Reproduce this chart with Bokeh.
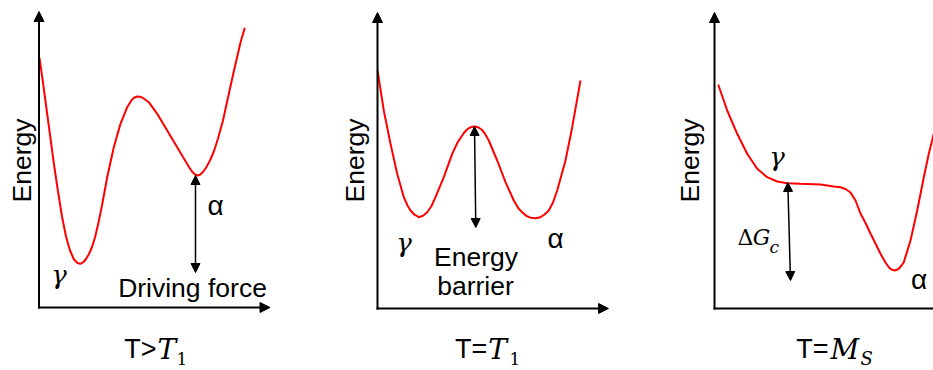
import math
from bokeh.plotting import figure
from bokeh.models import Range1d, Arrow, NormalHead
from bokeh.layouts import row
from bokeh.core.properties import value
from bokeh.embed import file_html
from bokeh.resources import INLINE

# ---------------- data (energy vs. reaction coordinate, arbitrary units) ----------------
x_hot = [0.5, 4.8, 8, 11.5, 15, 19, 23, 27, 31, 35, 38.5, 41.5, 44.5, 47, 50, 53, 56, 59.5,
         63, 68.2, 74.8, 81.5, 88.2, 92, 95, 98.2, 101, 104, 109.8, 118.2, 128.2, 138.2,
         144, 150, 153, 156, 158.5, 161, 164, 167, 171, 175, 179, 184, 189, 195, 201.5, 205.8]
e_hot = [249.7, 219, 195, 169, 143, 116, 91, 71, 57, 48, 44.5, 43.7, 45.5, 48.5, 53.5, 60.5,
         70, 85, 102, 130.3, 160.3, 183.7, 200.3, 206.5, 209.8, 211, 210.8, 209.5, 205.3,
         193.7, 177, 160.3, 150.5, 140.5, 136, 133, 132, 132.8, 135.5, 139.8, 147, 156.5,
         169, 187, 210, 237, 265, 279.7]

x_t1 = [0, 6.3, 13, 19.7, 26.3, 30, 33, 37, 41.3, 45.5, 49.7, 54, 58, 66.3, 74.7, 80, 86,
        89, 92, 95, 98, 101, 104, 107, 111.3, 119.7, 128, 136.3, 141, 144.7, 149, 153, 158,
        163, 167, 171.3, 175.5, 179.7, 188, 194.7, 203]
e_t1 = [238, 198, 164.7, 134.7, 111.3, 103, 98, 93.8, 91.3, 92.8, 96.3, 102.5, 111.3, 131.3,
        154.7, 166, 175, 178.5, 180.8, 181.8, 182, 181, 179, 175.5, 168, 148, 126.3, 108,
        100, 96.3, 92.5, 90.8, 90.3, 91.3, 94, 98, 106, 118, 148, 181.3, 228]

x_ms = [3.7, 12.7, 22.7, 32.7, 42.7, 52.7, 62.7, 72.7, 86, 106, 119.3, 126, 131, 136, 141,
        146, 151, 156, 166, 171, 174.3, 177, 180.3, 184, 187, 189.3, 196, 202.7, 209.3,
        214.3, 219.3]
e_ms = [224, 198, 174.7, 154.7, 139.7, 131.3, 127, 125.3, 124.7, 124, 122, 121.3, 119.5,
        116, 108, 95, 85.5, 75, 54.7, 46, 41.3, 39, 38, 39.5, 43, 46.3, 68, 98, 131.3,
        154.7, 174.7]

# double-arrow spans (x_top, e_top, x_bottom, e_bottom)
arrow_hot = (156.5, 132, 156.5, 35)   # driving force
arrow_t1 = (97, 182, 98.3, 81)        # energy barrier
arrow_ms = (73.3, 126, 76, 28)        # critical driving force

AXIS_Y_TOP = 296
AXIS_X_END = 231

SANS = value("Liberation Sans")
MATH = value("DejaVu Serif")
BLACK = "black"
H = 370


def make_panel(width, xr, yr):
    p = figure(width=width, height=H, x_range=Range1d(*xr), y_range=Range1d(*yr),
               output_backend="svg", toolbar_location=None,
               x_axis_location=None, y_axis_location=None, min_border=0)
    p.outline_line_color = None
    p.grid.visible = False
    p.background_fill_color = "white"
    p.border_fill_color = "white"
    return p


def axes(p, x_arrow=True):
    p.add_layout(Arrow(end=NormalHead(size=10, fill_color=BLACK, line_color=BLACK),
                       x_start=0, y_start=-1, x_end=0, y_end=AXIS_Y_TOP,
                       line_width=2, line_color=BLACK))
    if x_arrow:
        p.add_layout(Arrow(end=NormalHead(size=10, fill_color=BLACK, line_color=BLACK),
                           x_start=-1, y_start=0, x_end=AXIS_X_END, y_end=0,
                           line_width=2, line_color=BLACK))
    else:
        p.segment(x0=[-1], y0=[0], x1=[AXIS_X_END + 20], y1=[0], line_width=2, line_color=BLACK)


def dbl_arrow(p, a):
    p.add_layout(Arrow(start=NormalHead(size=9, fill_color=BLACK, line_color=BLACK),
                       end=NormalHead(size=9, fill_color=BLACK, line_color=BLACK),
                       x_start=a[2], y_start=a[3], x_end=a[0], y_end=a[1],
                       line_width=1.5, line_color=BLACK))


def energy_label(p, x, y):
    p.text(x=[x], y=[y], text=["Energy"], angle=math.pi / 2, text_font=SANS,
           text_font_size="26.5px", text_align="center", text_baseline="middle",
           text_color=BLACK)


def txt(p, x, y, s, font=SANS, size="26.5px", style="normal", align="left"):
    p.text(x=[x], y=[y], text=[s], text_font=font, text_font_size=size,
           text_font_style=style, text_align=align, text_baseline="middle",
           text_color=BLACK)


# ---------------- panel 1: T > T1 ----------------
p1 = make_panel(330, (-38.5, 291.5), (-63, 307))
axes(p1)
p1.line(x_hot, e_hot, line_color="#ff0000", line_width=2)
dbl_arrow(p1, arrow_hot)
energy_label(p1, -17, 147)
txt(p1, 20, 32.5, "γ", font=MATH, size="26px", style="italic", align="center")
txt(p1, 176.5, 102, "α", size="28px", align="center")
txt(p1, 153.5, 19.2, "Driving force", align="center")
txt(p1, 117.5, -41.6, "T>", size="27px", align="right")
txt(p1, 118.5, -41.6, "T", font=MATH, size="28px", style="italic")
txt(p1, 137.5, -51.1, "1", font=MATH, size="17px")

# ---------------- panel 2: T = T1 ----------------
p2 = make_panel(335, (-47, 288), (-62, 308))
axes(p2)
p2.line(x_t1, e_t1, line_color="#ff0000", line_width=2)
dbl_arrow(p2, arrow_t1)
energy_label(p2, -23, 148)
txt(p2, 26.5, 66, "γ", font=MATH, size="26px", style="italic", align="center")
txt(p2, 178, 70, "α", size="28px", align="center")
txt(p2, 98.5, 51.2, "Energy", align="center")
txt(p2, 98, 22.2, "barrier", align="center")
txt(p2, 109.7, -40.6, "T=", size="27px", align="right")
txt(p2, 110.7, -40.6, "T", font=MATH, size="28px", style="italic")
txt(p2, 132, -50.1, "1", font=MATH, size="17px")

# ---------------- panel 3: T = Ms ----------------
p3 = make_panel(268, (-49, 219), (-62, 308))
axes(p3, x_arrow=False)
p3.line(x_ms, e_ms, line_color="#ff0000", line_width=2)
dbl_arrow(p3, arrow_ms)
energy_label(p3, -24.5, 148)
txt(p3, 62.5, 151.5, "γ", font=MATH, size="26px", style="italic", align="center")
txt(p3, 204.5, 29, "α", size="28px", align="center")
txt(p3, 23, 70.6, "Δ", font=MATH, size="22px")
txt(p3, 38.3, 70.6, "G", font=MATH, size="22px", style="italic")
txt(p3, 55, 61.4, "c", font=MATH, size="17px", style="italic")
txt(p3, 114, -40.6, "T=", size="27px", align="right")
txt(p3, 116, -40.6, "M", font=MATH, size="28px", style="italic")
txt(p3, 146, -50.1, "S", font=MATH, size="18px", style="italic")

layout = row(p1, p2, p3)
open("out.html", "w").write(file_html(layout, INLINE))
